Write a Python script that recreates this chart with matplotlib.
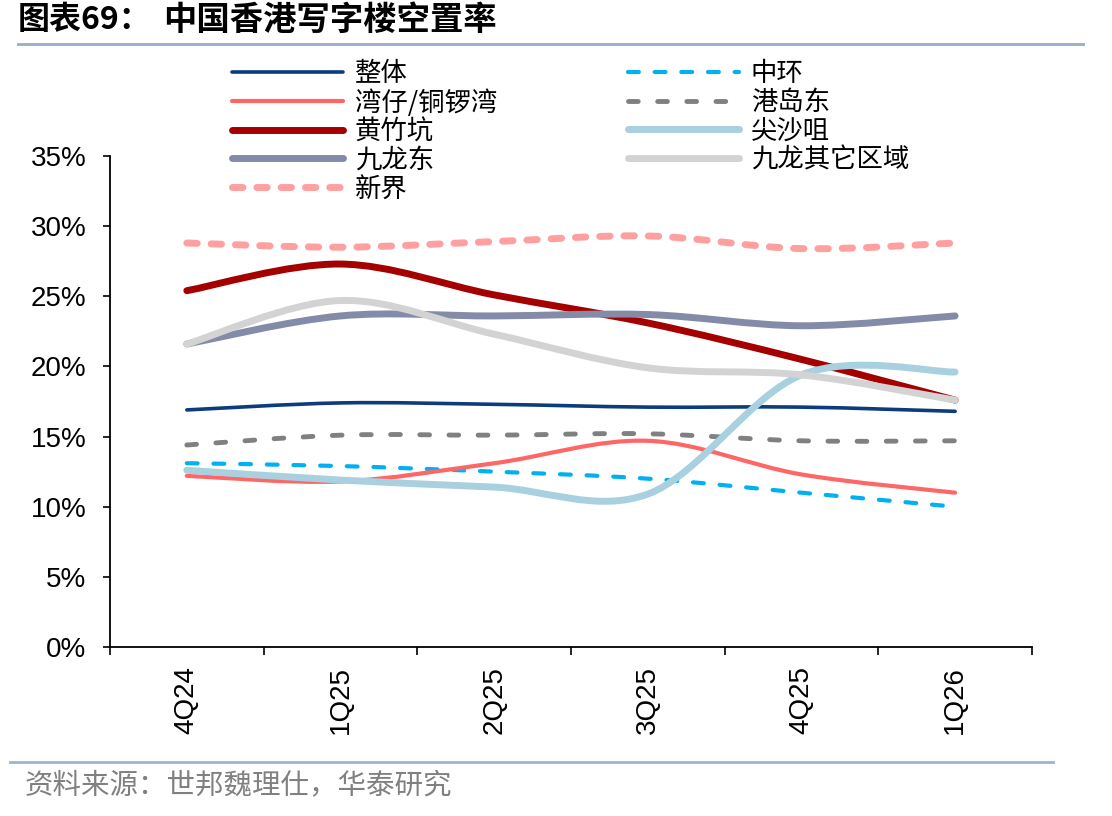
import matplotlib
matplotlib.use("Agg")
import matplotlib.pyplot as plt
from matplotlib.path import Path
from matplotlib.patches import PathPatch
from matplotlib.lines import Line2D
import numpy as np

plt.rcParams['font.family'] = ['Noto Sans CJK SC', 'DejaVu Sans']

quarters = ['4Q24', '1Q25', '2Q25', '3Q25', '4Q25', '1Q26']

zhengti = [16.9, 17.4, 17.3, 17.1, 17.1, 16.8]
zhonghuan = [13.1, 12.9, 12.5, 12.0, 11.0, 10.0]
wanzai = [12.2, 11.8, 13.1, 14.7, 12.3, 11.0]
gangdaodong = [14.4, 15.1, 15.1, 15.2, 14.7, 14.7]
huangzhukeng = [25.4, 27.3, 25.1, 23.1, 20.5, 17.6]
jianshazui = [12.6, 11.9, 11.4, 10.9, 19.4, 19.6]
jiulongdong = [21.6, 23.6, 23.6, 23.7, 22.9, 23.6]
jiulong_other = [21.6, 24.7, 22.3, 19.9, 19.4, 17.6]
xinjie = [28.8, 28.5, 28.9, 29.3, 28.4, 28.8]

# name, values, color, width, dashes
series = [
    ('整体', zhengti, '#0B3C7D', 2.6, None),
    ('中环', zhonghuan, '#00B0F0', 3.0, (2.6, 3.8)),
    ('湾仔/铜锣湾', wanzai, '#FF6666', 3.0, None),
    ('港岛东', gangdaodong, '#808080', 3.5, (2.0, 4.0)),
    ('黄竹坑', huangzhukeng, '#A50000', 5.0, None),
    ('尖沙咀', jianshazui, '#A9D0DF', 5.0, None),
    ('九龙东', jiulongdong, '#848BA8', 5.0, None),
    ('九龙其它区域', jiulong_other, '#D3D3D3', 5.0, None),
    ('新界', xinjie, '#FFA0A0', 5.0, (1.5, 2.0)),
]


def smooth_path(y):
    # Excel-style smoothed line: cubic Bezier through the points
    y = list(y)
    n = len(y)
    pts = [(float(i), float(v)) for i, v in enumerate(y)]
    verts = [pts[0]]
    codes = [Path.MOVETO]
    for i in range(n - 1):
        p0 = pts[i - 1] if i > 0 else pts[i]
        p1 = pts[i]
        p2 = pts[i + 1]
        p3 = pts[i + 2] if i + 2 < n else pts[i + 1]
        c1 = (p1[0] + (p2[0] - p0[0]) / 6, p1[1] + (p2[1] - p0[1]) / 6)
        c2 = (p2[0] - (p3[0] - p1[0]) / 6, p2[1] - (p3[1] - p1[1]) / 6)
        verts += [c1, c2, p2]
        codes += [Path.CURVE4] * 3
    return Path(verts, codes)


fig = plt.figure(figsize=(11.12, 8.16), dpi=100)
ax = fig.add_axes([0.0989, 0.2071, 0.8291, 0.6017])

handles = {}
for name, vals, color, lw, dash in series:
    ls = '-' if dash is None else (0, dash)
    patch = PathPatch(smooth_path(vals), fill=False, edgecolor=color,
                      linewidth=lw, linestyle=ls, capstyle='round',
                      joinstyle='round')
    ax.add_patch(patch)
    handles[name] = Line2D([], [], color=color, linewidth=lw, linestyle=ls,
                           solid_capstyle='round', dash_capstyle='round')

ax.set_xlim(-0.5, len(quarters) - 0.5)
ax.set_ylim(0, 35)
ax.set_yticks(np.arange(0, 36, 5))
ax.set_yticklabels(['%d%%' % v for v in range(0, 36, 5)])
ax.set_xticks(range(len(quarters)))
ax.set_xticklabels(quarters, rotation=90, va='top', ha='center')
ax.set_xticks(np.arange(-0.5, len(quarters), 1.0), minor=True)

for s in ['top', 'right']:
    ax.spines[s].set_visible(False)
for s in ['left', 'bottom']:
    ax.spines[s].set_linewidth(1.3)
    ax.spines[s].set_color('black')

ax.tick_params(axis='y', direction='out', length=5, width=1.2, pad=12,
               labelsize=20)
ax.tick_params(axis='x', which='major', length=0, pad=14, labelsize=20)
ax.tick_params(axis='x', which='minor', direction='out', length=6, width=1.2)
for lab in ax.get_xticklabels() + ax.get_yticklabels():
    lab.set_family(['Liberation Sans', 'DejaVu Sans'])

left_names = ['整体', '湾仔/铜锣湾', '黄竹坑', '九龙东', '新界']
right_names = ['中环', '港岛东', '尖沙咀', '九龙其它区域']
leg_kw = dict(frameon=False, fontsize=19, handlelength=4.2,
              handletextpad=0.45, labelspacing=0.06, borderpad=0,
              borderaxespad=0, loc='upper left')
leg1 = fig.legend([handles[n] for n in left_names], left_names,
                  bbox_to_anchor=(0.2086, 0.926), **leg_kw)
leg2 = fig.legend([handles[n] for n in right_names], right_names,
                  bbox_to_anchor=(0.5647, 0.926), **leg_kw)

# title and source
fig.text(0.016, 0.975, '图表69：', fontsize=23, fontweight='bold',
         va='center', ha='left')
fig.text(0.147, 0.975, '中国香港写字楼空置率', fontsize=24,
         fontweight='bold', va='center', ha='left')
fig.add_artist(Line2D([0.016, 0.974], [0.946, 0.946], color='#98AECA',
                      linewidth=2, transform=fig.transFigure))
fig.add_artist(Line2D([0.009, 0.947], [0.066, 0.066], color='#9CB4D0',
                      linewidth=2, transform=fig.transFigure))
fig.text(0.022, 0.038, '资料来源：世邦魏理仕，华泰研究', fontsize=20.5,
         color='#808080', va='center', ha='left')

fig.savefig('out.png', dpi=100)
